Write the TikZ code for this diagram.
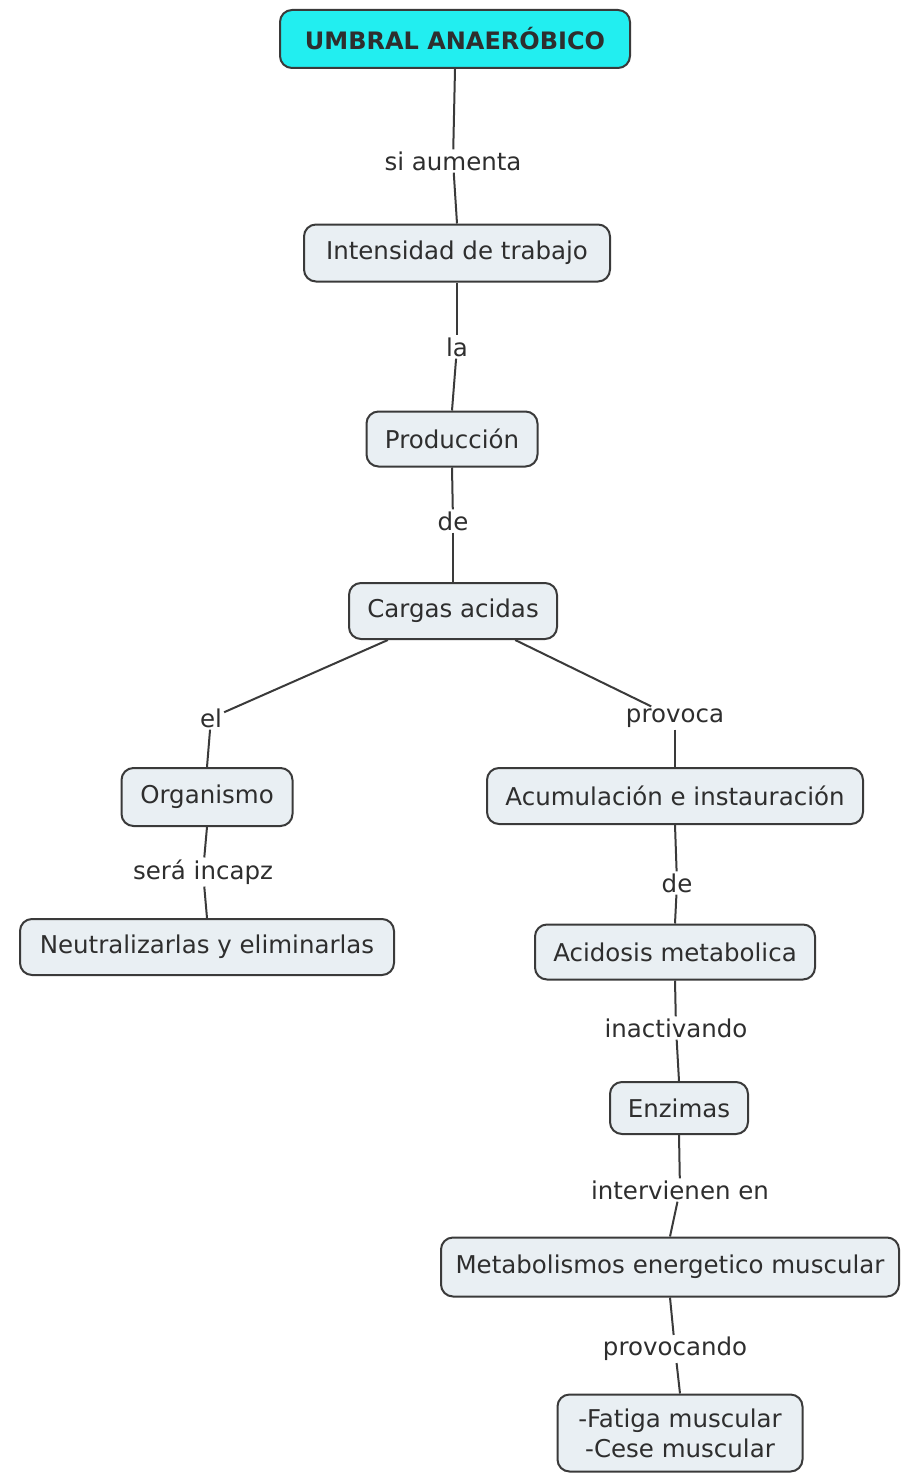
\documentclass[tikz,border=0pt]{standalone}
\usepackage{fontspec}
\setmainfont{DejaVu Sans}
\usepackage{tikz}
\definecolor{cyanbox}{HTML}{22EEF0}
\definecolor{pale}{HTML}{E9EFF3}
\definecolor{edge}{HTML}{3A3A3A}
\definecolor{ink}{HTML}{2E2E2E}
\begin{document}
\begin{tikzpicture}[x=1pt,y=-1pt,font=\fontsize{24.5}{30}\selectfont,text=ink,
concept/.style={draw=edge,line width=2pt,rounded corners=12pt,fill=pale,align=center,inner sep=0pt},
lbl/.style={inner sep=2pt,text=ink},
link/.style={draw=edge,line width=2pt}]
\useasboundingbox (0,0) rectangle (900,1474);
\node[concept,fill=cyanbox,minimum width=350pt,minimum height=58pt,font=\fontsize{24}{30}\selectfont\bfseries] (umbral) at (455,39) {UMBRAL ANAERÓBICO};
\node[concept,minimum width=306pt,minimum height=57pt] (intens) at (457,253) {Intensidad de trabajo};
\node[concept,minimum width=171pt,minimum height=55pt] (prod) at (452,439) {Producción};
\node[concept,minimum width=208pt,minimum height=56pt] (cargas) at (453,611) {Cargas acidas};
\node[concept,minimum width=171pt,minimum height=58pt] (organ) at (207,797) {Organismo};
\node[concept,minimum width=376pt,minimum height=56pt] (acum) at (675,796) {Acumulación e instauración};
\node[concept,minimum width=374pt,minimum height=56pt] (neutr) at (207,947) {Neutralizarlas y eliminarlas};
\node[concept,minimum width=280pt,minimum height=55pt] (acidosis) at (675,952) {Acidosis metabolica};
\node[concept,minimum width=138pt,minimum height=52pt] (enzimas) at (679,1108) {Enzimas};
\node[concept,minimum width=458pt,minimum height=59pt] (metab) at (670,1267) {Metabolismos energetico muscular};
\node[concept,minimum width=245pt,minimum height=77pt] (fatiga) at (680,1433) {-Fatiga muscular\\-Cese muscular};
% link labels
\node[lbl] (l1) at (453,161) {si aumenta};
\node[lbl] (l2) at (457,347) {la};
\node[lbl] (l3) at (453,521) {de};
\node[lbl] (l4) at (211,718) {el};
\node[lbl] (l5) at (675,718) {provoca};
\node[lbl] (l6) at (203,872) {será incapz};
\node[lbl] (l7) at (677,883) {de};
\node[lbl] (l8) at (676,1028) {inactivando};
\node[lbl] (l9) at (680,1190) {intervienen en};
\node[lbl] (l10) at (675,1349) {provocando};
\draw[link] (umbral.south) -- (l1);
\draw[link] (l1) -- (intens.north);
\draw[link] (intens.south) -- (l2);
\draw[link] (l2) -- (prod.north);
\draw[link] (prod.south) -- (l3);
\draw[link] (l3) -- (cargas.north);
\draw[link] (cargas.-156) -- (l4);
\draw[link] (l4) -- (organ.north);
\draw[link] (cargas.-25) -- (l5);
\draw[link] (l5) -- (acum.north);
\draw[link] (organ.south) -- (l6);
\draw[link] (l6) -- (neutr.north);
\draw[link] (acum.south) -- (l7);
\draw[link] (l7) -- (acidosis.north);
\draw[link] (acidosis.south) -- (l8);
\draw[link] (l8) -- (enzimas.north);
\draw[link] (enzimas.south) -- (l9);
\draw[link] (l9) -- (metab.north);
\draw[link] (metab.south) -- (l10);
\draw[link] (l10) -- (fatiga.north);
\end{tikzpicture}
\end{document}
